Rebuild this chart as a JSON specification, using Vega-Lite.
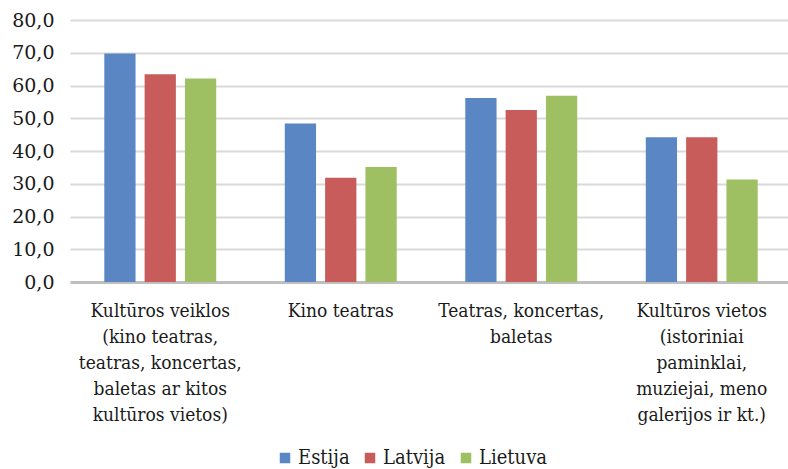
{
  "$schema": "https://vega.github.io/schema/vega-lite/v6.json",
  "width": 722,
  "height": 262,
  "padding": {"left": 11, "top": 11, "right": 0, "bottom": 2},
  "background": "white",
  "config": {
    "font": "DejaVu Serif",
    "view": {"stroke": null}
  },
  "data": {
    "values": [
      {"cat": "Kultūros veiklos|(kino teatras,|teatras, koncertas,|baletas ar kitos|kultūros vietos)", "country": "Estija", "value": 69.8},
      {"cat": "Kultūros veiklos|(kino teatras,|teatras, koncertas,|baletas ar kitos|kultūros vietos)", "country": "Latvija", "value": 63.4},
      {"cat": "Kultūros veiklos|(kino teatras,|teatras, koncertas,|baletas ar kitos|kultūros vietos)", "country": "Lietuva", "value": 62.1},
      {"cat": "Kino teatras", "country": "Estija", "value": 48.4},
      {"cat": "Kino teatras", "country": "Latvija", "value": 31.8},
      {"cat": "Kino teatras", "country": "Lietuva", "value": 35.1},
      {"cat": "Teatras, koncertas,|baletas", "country": "Estija", "value": 56.2},
      {"cat": "Teatras, koncertas,|baletas", "country": "Latvija", "value": 52.5},
      {"cat": "Teatras, koncertas,|baletas", "country": "Lietuva", "value": 56.9},
      {"cat": "Kultūros vietos|(istoriniai|paminklai,|muziejai, meno|galerijos ir kt.)", "country": "Estija", "value": 44.2},
      {"cat": "Kultūros vietos|(istoriniai|paminklai,|muziejai, meno|galerijos ir kt.)", "country": "Latvija", "value": 44.2},
      {"cat": "Kultūros vietos|(istoriniai|paminklai,|muziejai, meno|galerijos ir kt.)", "country": "Lietuva", "value": 31.3}
    ]
  },
  "mark": {"type": "bar"},
  "encoding": {
    "x": {
      "field": "cat",
      "type": "nominal",
      "sort": null,
      "scale": {"paddingInner": 0.38, "paddingOuter": 0.19},
      "axis": {
        "title": null,
        "labelAngle": 0,
        "labelFont": "DejaVu Serif Condensed",
        "labelExpr": "split(datum.label, '|')",
        "labelFontSize": 19,
        "labelLineHeight": 26,
        "labelPadding": 19,
        "ticks": false,
        "domainColor": "#bfbfbf",
        "domainWidth": 3,
        "labelColor": "#1a1a1a"
      }
    },
    "xOffset": {
      "field": "country",
      "type": "nominal",
      "sort": ["Estija", "Latvija", "Lietuva"],
      "scale": {"paddingInner": 0.225, "paddingOuter": 0}
    },
    "y": {
      "field": "value",
      "type": "quantitative",
      "scale": {"domain": [0, 80], "nice": false},
      "axis": {
        "title": null,
        "values": [0, 10, 20, 30, 40, 50, 60, 70, 80],
        "labelFont": "DejaVu Serif",
        "labelExpr": "replace(format(datum.value, '.1f'), '.', ',')",
        "labelFontSize": 19,
        "labelPadding": 16,
        "ticks": false,
        "domain": false,
        "gridColor": "#d9d9d9",
        "gridWidth": 2,
        "labelColor": "#1a1a1a"
      }
    },
    "color": {
      "field": "country",
      "type": "nominal",
      "sort": ["Estija", "Latvija", "Lietuva"],
      "scale": {"domain": ["Estija", "Latvija", "Lietuva"], "range": ["#5a87c4", "#c85c5a", "#9ebf62"]},
      "legend": {
        "title": null,
        "orient": "none",
        "legendX": 205,
        "legendY": 428,
        "direction": "horizontal",
        "symbolType": "square",
        "symbolSize": 110,
        "symbolStrokeWidth": 0,
        "labelFont": "DejaVu Serif Condensed",
        "labelFontSize": 20,
        "labelColor": "#1a1a1a",
        "columnPadding": 10,
        "labelOffset": 3
      }
    }
  }
}
